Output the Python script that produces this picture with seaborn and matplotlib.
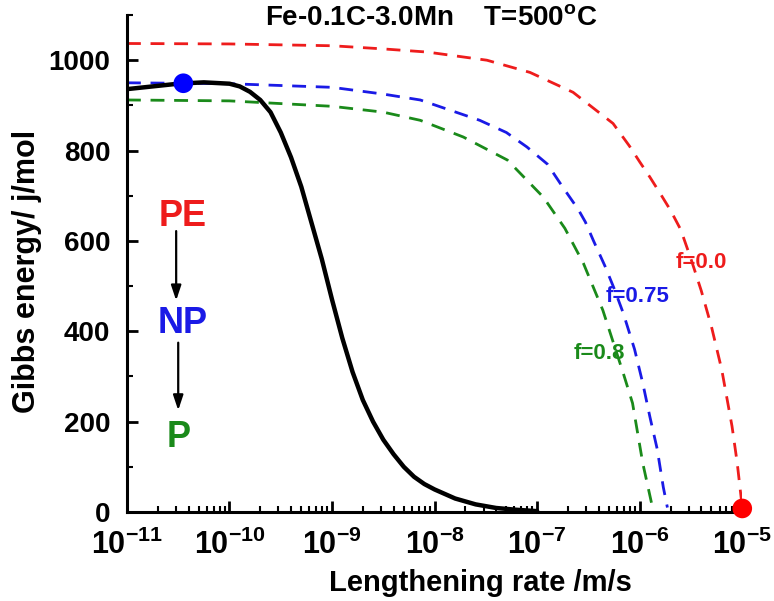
import numpy as np
import pandas as pd
import matplotlib
matplotlib.use("Agg")
import matplotlib.pyplot as plt
from matplotlib.ticker import MultipleLocator, LogLocator, NullFormatter
import seaborn as sns

# ---- data (log10 of lengthening rate, Gibbs energy) ----
black_log = [-11.0, -10.75, -10.5, -10.25, -10.0, -9.9, -9.8, -9.7, -9.6, -9.5, -9.4, -9.3,
             -9.2, -9.1, -9.0, -8.9, -8.8, -8.7, -8.6, -8.5, -8.4, -8.3, -8.2, -8.1, -8.0,
             -7.8, -7.6, -7.4, -7.2, -7.0]
black_g = [936, 942, 948, 951, 948, 942, 930, 912, 885, 840, 785, 720,
           640, 560, 470, 385, 310, 248, 200, 160, 128, 100, 78, 62, 50,
           30, 17, 9, 5, 2]

red_log = [-11.0, -10.0, -9.0, -8.5, -8.07, -7.49, -7.07, -6.65, -6.26, -6.1, -6.0, -5.9,
           -5.8, -5.7, -5.6, -5.5, -5.4, -5.3, -5.2, -5.1, -5.05, -5.0]
red_g = [1037, 1036, 1032, 1025, 1018, 1000, 973, 929, 860, 810, 775, 741,
         705, 668, 625, 560, 490, 410, 315, 190, 110, 10]

blue_log = [-11.0, -10.0, -9.0, -8.5, -8.14, -7.56, -7.3, -7.1, -6.9, -6.75, -6.6, -6.53,
            -6.45, -6.34, -6.25, -6.16, -6.05, -5.97, -5.9, -5.83, -5.77, -5.73]
blue_g = [950, 948, 940, 925, 912, 867, 840, 808, 770, 719, 670, 642,
          600, 545, 495, 440, 360, 285, 210, 140, 55, 10]

green_log = [-11.0, -10.0, -9.0, -8.5, -8.14, -7.72, -7.29, -6.94, -6.73, -6.55, -6.36,
             -6.16, -6.07, -5.97, -5.88]
green_g = [912, 910, 898, 885, 867, 830, 779, 697, 628, 551, 447,
           307, 241, 108, 15]

dot_log = [-10.45, -5.0]
dot_g = [949, 8]
dot_colors = ["#0000ff", "#ff0000"]

xtick_exp = [-11, -10, -9, -8, -7, -6, -5]
ytick_vals = [0, 200, 400, 600, 800, 1000]

curve_labels = ["f=0.0", "f=0.75", "f=0.8"]

RED = "#ee1c1c"
BLUE = "#1a1ae6"
GREEN = "#1a8a1a"

# ---- style ----
sns.set_style("ticks")
plt.rcParams["font.family"] = ["Liberation Sans", "DejaVu Sans"]
plt.rcParams["font.weight"] = "bold"
plt.rcParams["mathtext.fontset"] = "custom"
plt.rcParams["mathtext.rm"] = "Liberation Sans:bold"
plt.rcParams["mathtext.bf"] = "Liberation Sans:bold"
plt.rcParams["mathtext.default"] = "bf"
for k in ["text.color", "axes.labelcolor", "xtick.color", "ytick.color", "axes.edgecolor"]:
    plt.rcParams[k] = "black"

fig = plt.figure(figsize=(7.74, 6.01), dpi=100)
ax = fig.add_axes([0.164, 0.148, 0.795, 0.827])

def frame(logs, vals):
    return pd.DataFrame({"rate": np.power(10.0, logs), "g": vals})

dash = (0, (5, 3.5))
sns.lineplot(data=frame(red_log, red_g), x="rate", y="g", ax=ax, color=RED,
             linestyle=dash, linewidth=2.0, estimator=None, sort=False)
sns.lineplot(data=frame(blue_log, blue_g), x="rate", y="g", ax=ax, color=BLUE,
             linestyle=dash, linewidth=2.0, estimator=None, sort=False)
sns.lineplot(data=frame(green_log, green_g), x="rate", y="g", ax=ax, color=GREEN,
             linestyle=dash, linewidth=2.0, estimator=None, sort=False)
sns.lineplot(data=frame(black_log, black_g), x="rate", y="g", ax=ax, color="black",
             linewidth=3.2, estimator=None, sort=False)
sns.scatterplot(x=np.power(10.0, dot_log), y=dot_g, ax=ax, hue=dot_colors,
                palette={c: c for c in dot_colors}, s=200, edgecolor="none",
                legend=False, zorder=10, clip_on=False)

ax.set_xscale("log")
ax.set_xlim(1e-11, 1e-5)
ax.set_ylim(0, 1100)

ax.set_xticks([10.0 ** e for e in xtick_exp])
ax.set_xticklabels([r"$\mathbf{10^{%d}}$" % e for e in xtick_exp], fontsize=22)
ax.xaxis.set_minor_locator(LogLocator(base=10, subs=np.arange(2, 10)))
ax.xaxis.set_minor_formatter(NullFormatter())
ax.set_yticks(ytick_vals)
ax.set_yticklabels([str(v) for v in ytick_vals], fontsize=20, fontweight="bold")
ax.yaxis.set_minor_locator(MultipleLocator(100))

ax.tick_params(which="major", direction="in", length=8, width=2)
ax.tick_params(which="minor", direction="in", length=4, width=1.5)
ax.tick_params(axis="x", which="major", pad=13)
ax.tick_params(axis="y", which="major", pad=12)
for s in ["left", "bottom"]:
    ax.spines[s].set_linewidth(2.2)
sns.despine(ax=ax)

ax.set_xlabel("Lengthening rate /m/s", fontsize=21, fontweight="bold")
ax.xaxis.set_label_coords(0.574, -0.115)
ax.set_ylabel("Gibbs energy/ j/mol", fontsize=22, fontweight="bold")
ax.yaxis.set_label_coords(-0.138, 0.485)

ax.text(0.494, 0.994, r"Fe-0.1C-3.0Mn    T=500$^\mathbf{o}$C", transform=ax.transAxes,
        ha="center", va="center", fontsize=20, fontweight="bold")

# curve labels
ax.text(10 ** -5.4, 553, curve_labels[0], color=RED, fontsize=16, fontweight="bold",
        ha="center", va="center")
ax.text(10 ** -6.02, 476, curve_labels[1], color=BLUE, fontsize=16, fontweight="bold",
        ha="center", va="center")
ax.text(10 ** -6.39, 352, curve_labels[2], color=GREEN, fontsize=16, fontweight="bold",
        ha="center", va="center")

# PE -> NP -> P
ax.text(10 ** -10.46, 653, "PE", color=RED, fontsize=26, fontweight="bold",
        ha="center", va="center")
ax.text(10 ** -10.46, 418, "NP", color=BLUE, fontsize=26, fontweight="bold",
        ha="center", va="center")
ax.text(10 ** -10.50, 166, "P", color=GREEN, fontsize=26, fontweight="bold",
        ha="center", va="center")
arrow = dict(arrowstyle="-|>,head_length=0.9,head_width=0.3", color="black", lw=1.6)
ax.annotate("", xy=(10 ** -10.52, 462), xytext=(10 ** -10.52, 628), arrowprops=arrow)
ax.annotate("", xy=(10 ** -10.50, 219), xytext=(10 ** -10.50, 381), arrowprops=arrow)

fig.savefig("out.png", dpi=100)
